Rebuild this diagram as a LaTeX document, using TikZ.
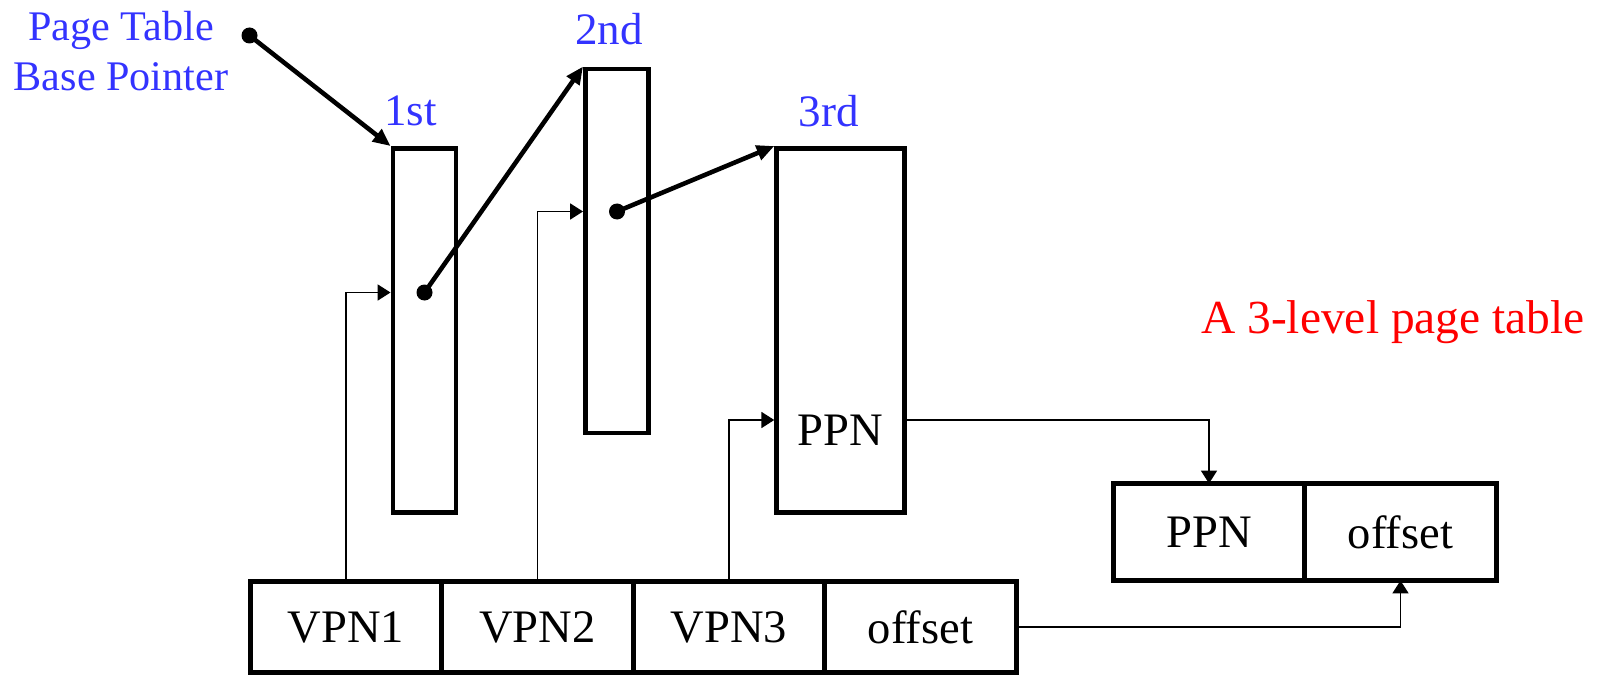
\documentclass[tikz,border=0pt]{standalone}
\usepackage{fontspec}
\setmainfont{Liberation Serif}
\usetikzlibrary{arrows.meta,positioning,calc}
\definecolor{lvlblue}{RGB}{51,51,255}

\begin{document}
\begin{tikzpicture}[
    box/.style={draw, line width=2.8pt, inner sep=0pt},
    cell/.style={draw, line width=2.6pt, inner sep=0pt, outer sep=0pt,
      minimum width=3.83cm, minimum height=1.82cm, font=\fontsize{26.5}{30}\selectfont},
    txt/.style={inner sep=0pt, font=\fontsize{26.5}{30}\selectfont},
    lvl/.style={text=lvlblue, inner sep=0pt, anchor=base, font=\fontsize{25.6}{30}\selectfont},
    ptr/.style={line width=2.6pt, -{Triangle[length=10pt, width=8.5pt]}},
    link/.style={line width=1.1pt, -{Triangle[length=7.3pt, width=9pt]}},
    dot/.style={circle, fill=black, inner sep=0pt, minimum size=0.32cm}
  ]
  \useasboundingbox (0,0) rectangle (32.08,13.5);

  % Page tables of the three levels
  \node[box, minimum width=1.26cm, minimum height=7.28cm] (first) at (8.49,6.89) {};
  \node[box, minimum width=1.26cm, minimum height=7.28cm] (second) at (12.34,8.48) {};
  \node[box, minimum width=2.55cm, minimum height=7.28cm] (third) at (16.81,6.89) {};
  \node[lvl] (lbl1) at (8.21,10.98) {1st};
  \node[lvl] (lbl2) at (12.18,12.6) {2nd};
  \node[lvl] (lbl3) at (16.57,10.97) {3rd};
  \node[txt] (ppnent) at (16.81,4.9) {PPN};

  % Rows that are looked up
  \coordinate (row1) at (0,7.65);
  \coordinate (row2) at (0,9.27);
  \coordinate (row3) at (0,5.1);

  % Base pointer
  \node[lvl, anchor=center, align=center, font=\fontsize{24}{28.9}\selectfont] (ptbp) at (2.42,12.48) {Page Table\\Base Pointer};
  \node[dot] (base) at (4.99,12.79) {};
  \node[dot] (d1) at (first |- row1) {};
  \node[dot] (d2) at (second |- row2) {};
  \draw[ptr] (base.center) -- (first.north west);
  \draw[ptr] (d1.center) -- (second.north west);
  \draw[ptr] (d2.center) -- (third.north west);

  % Virtual address
  \node[cell] (vpn1) at (6.92,0.96) {VPN1};
  \node[cell, right=0pt of vpn1] (vpn2) {VPN2};
  \node[cell, right=0pt of vpn2] (vpn3) {VPN3};
  \node[cell, right=0pt of vpn3] (voff) {offset};

  % Physical address
  \node[cell, minimum height=1.94cm] (pppn) at (24.18,2.86) {PPN};
  \node[cell, minimum height=1.94cm, right=0pt of pppn] (poff) {offset};

  \draw[link] (vpn1.north) |- (first.west |- row1);
  \draw[link] (vpn2.north) |- (second.west |- row2);
  \draw[link] (vpn3.north) |- (third.west |- row3);
  \draw[link] (third.east |- row3) -| (pppn.north);
  \draw[link] (voff.east) -| (poff.south);

  \node[text=red, inner sep=0pt, anchor=base, font=\fontsize{27}{32}\selectfont] (title) at (27.86,6.84) {A 3-level page table};
\end{tikzpicture}
\end{document}
